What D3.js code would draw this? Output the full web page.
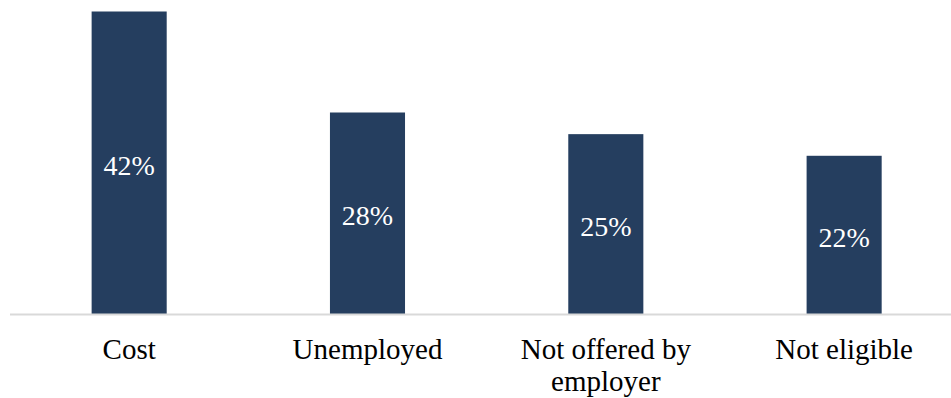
<!DOCTYPE html>
<html>
<head>
<meta charset="utf-8">
<script src="https://cdn.jsdelivr.net/npm/d3@7/dist/d3.min.js"></script>
<style>
  html, body { margin: 0; padding: 0; background: #fff; }
  svg { display: block; }
  svg text { font-family: "Liberation Serif", "Times New Roman", Times, serif; }
</style>
</head>
<body>
<svg id="chart" width="951" height="398"></svg>
<script>
// Reasons for lacking coverage (share of respondents, %)
const categories = ["Cost", "Unemployed", "Not offered by employer", "Not eligible"];
const categoryLines = [["Cost"], ["Unemployed"], ["Not offered by", "employer"], ["Not eligible"]];
const values = [42, 28, 25, 22];
const valueLabels = ["42%", "28%", "25%", "22%"];

const svg = d3.select("#chart");
const baseY = 314.5;

const x = d3.scaleBand()
  .domain(categories)
  .range([10, 963.3])
  .paddingInner(0.685)
  .paddingOuter(0.3425);

const y = d3.scaleLinear()
  .domain([0, 42])
  .range([baseY, 11.5]);

// bars
svg.append("g").selectAll("rect")
  .data(values)
  .join("rect")
  .attr("x", (d, i) => x(categories[i]))
  .attr("width", x.bandwidth())
  .attr("y", d => y(d))
  .attr("height", d => y(0) - y(d))
  .attr("fill", "#253e5f");

// value labels inside bars
svg.append("g").selectAll("text")
  .data(values)
  .join("text")
  .attr("x", (d, i) => x(categories[i]) + x.bandwidth() / 2)
  .attr("y", d => (y(d) + y(0)) / 2)
  .attr("dy", "0.42em")
  .attr("text-anchor", "middle")
  .style("font-size", "28px")
  .attr("fill", "#ffffff")
  .text((d, i) => valueLabels[i]);

// baseline axis
svg.append("line")
  .attr("x1", 10).attr("x2", 951)
  .attr("y1", baseY).attr("y2", baseY)
  .attr("stroke", "#d9d9d9")
  .attr("stroke-width", 2);

// category labels
const cat = svg.append("g").selectAll("text")
  .data(categories)
  .join("text")
  .attr("x", d => x(d) + x.bandwidth() / 2)
  .attr("y", 359)
  .attr("text-anchor", "middle")
  .style("font-size", "29px")
  .attr("fill", "#000");

cat.each(function(d, i) {
  const t = d3.select(this);
  categoryLines[i].forEach((line, j) => {
    t.append("tspan")
      .attr("x", x(d) + x.bandwidth() / 2)
      .attr("dy", j === 0 ? 0 : 31.5)
      .text(line);
  });
});
</script>
</body>
</html>
